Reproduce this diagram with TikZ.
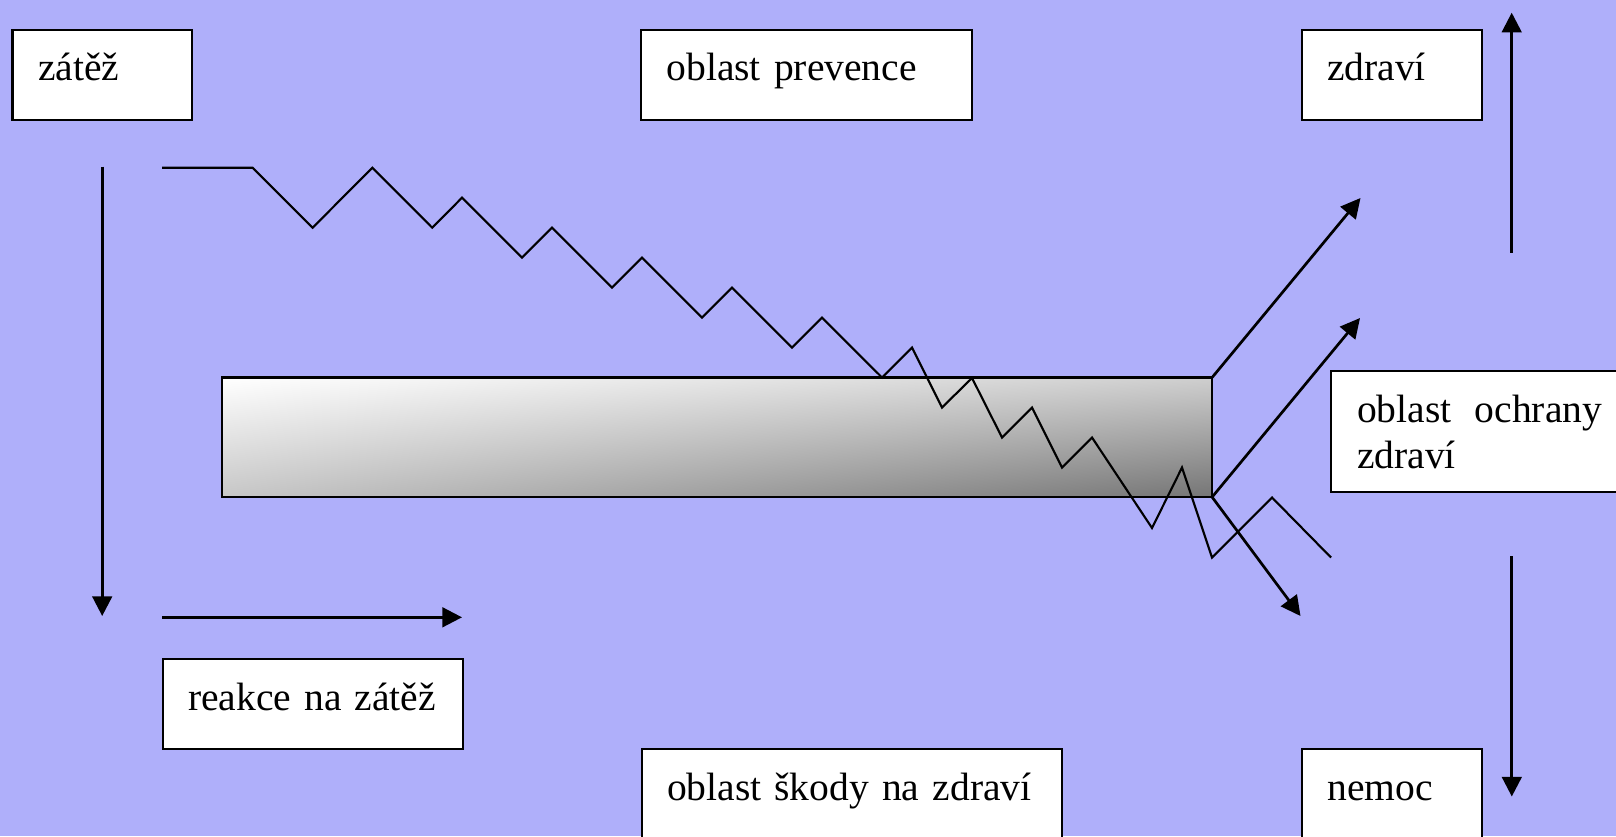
\documentclass[tikz,border=0pt]{standalone}
\usepackage{fontspec}
\setmainfont{Liberation Serif}
\usetikzlibrary{arrows.meta}
\definecolor{bgblue}{RGB}{175,175,250}
\pgfdeclarefunctionalshading{bardiag}{\pgfpoint{0bp}{0bp}}{\pgfpoint{100bp}{100bp}}{}{
  0.02 mul 1.5 exch sub
  exch 0.02 mul 0.5 sub
  2 copy mul -0.13 mul
  3 1 roll
  -0.19 mul
  exch -0.22 mul
  add add 1 add
  dup dup
}
\tikzset{
  txtbox/.style={draw=black, line width=0.57pt, fill=white, anchor=north west,
    inner xsep=0.255cm, inner ysep=0pt, outer sep=0pt, align=left,
    text height=0.51cm, font=\fontsize{11.24pt}{13.1pt}\selectfont},
  arr/.style={line width=0.77pt, -{Triangle[length=5.6pt,width=5.6pt]}},
  zig/.style={line width=0.6pt, line join=miter},
  barbox/.style={draw=black, line width=0.65pt, anchor=north west, outer sep=0pt,
    inner sep=0pt, shade, shading=bardiag}
}
\begin{document}
\begin{tikzpicture}[x=0.01cm,y=-0.01cm]
\useasboundingbox (0,0) rectangle (1616,836);
\clip (0,0) rectangle (1616,836);
\fill[bgblue] (0,0) rectangle (1616,836);

% shaded bar
\node[barbox, minimum width=9.895cm, minimum height=1.195cm] (bar) at (222,377.5) {};

% zigzag
\draw[zig] (162,167.7) -- (252.6,167.7) -- (312.6,227.7) -- (372.4,167.7) -- (432.2,227.7)
  -- (462,197.7) -- (522,257.7) -- (552,227.7) -- (612,287.7) -- (642,257.7)
  -- (702,317.7) -- (732,287.7) -- (792,347.7) -- (822,317.7) -- (882,377.5)
  -- (912,347.5) -- (942,407.5) -- (972,378) -- (1002,437.5) -- (1032,407.5)
  -- (1062,467.5) -- (1092,437.5) -- (1152,528) -- (1182,467.5) -- (1212,557.5)
  -- (1272,497.5) -- (1331,557.5);

% free arrow end points
\coordinate (zA) at (102.2,166.7);
\coordinate (zB) at (102.2,616);
\coordinate (hA) at (162,617.3);
\coordinate (hB) at (462,617.3);
\coordinate (uA) at (1511.7,252.7);
\coordinate (uB) at (1511.7,12.7);
\coordinate (dA) at (1511.8,556);
\coordinate (dB) at (1511.8,796.5);
\coordinate (t1) at (1360.5,198);
\coordinate (t2) at (1360,318);
\coordinate (t3) at (1300.5,616);

\draw[arr] (zA) -- (zB);
\draw[arr] (hA) -- (hB);
\draw[arr] (uA) -- (uB);
\draw[arr] (dA) -- (dB);
\draw[arr] (bar.north east) -- (t1);
\draw[arr] (bar.south east) -- (t2);
\draw[arr] (bar.south east) -- (t3);

% text boxes
\node[txtbox, text width=1.285cm, text depth=0.39cm] (zatez) at (12.5,29.5) {zátěž};
\node[txtbox, text width=2.80cm, text depth=0.39cm] (prev) at (641,29.5) {oblast prevence};
\node[txtbox, text width=1.295cm, text depth=0.39cm] (zdravi) at (1301.5,29.5) {zdraví};
\node[txtbox, text width=2.49cm, text depth=0.393cm] (reakce) at (162.5,659) {reakce na zátěž};
\node[txtbox, text width=3.695cm, text depth=0.6cm] (skody) at (641.5,749.3) {oblast škody na zdraví};
\node[txtbox, text width=1.29cm, text depth=0.6cm] (nemoc) at (1302,749.3) {nemoc};
\node[txtbox, inner xsep=0.26cm, text width=2.45cm, text depth=0.697cm] (ochrana) at (1331,371)
  {oblast\hskip 0pt plus 1fill ochrany\\zdraví};
\end{tikzpicture}
\end{document}
